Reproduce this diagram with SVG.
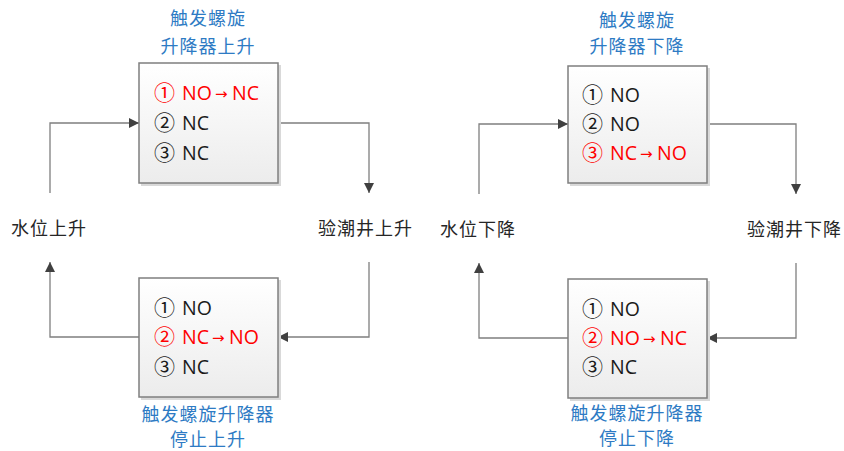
<svg xmlns="http://www.w3.org/2000/svg" width="844" height="451" viewBox="0 0 844 451">
<defs>
<linearGradient id="g" x1="0" y1="0" x2="0" y2="1">
<stop offset="0" stop-color="#ffffff"/>
<stop offset="1" stop-color="#ececec"/>
</linearGradient>
<marker id="ah" viewBox="0 0 10 10" refX="10" refY="5" markerWidth="10" markerHeight="10" markerUnits="userSpaceOnUse" orient="auto">
<path d="M0,0 L10,5 L0,10 z" fill="#404040"/>
</marker>
<style>
.box{fill:url(#g);stroke:#7f7f7f;stroke-width:1.5}
.sh{fill:#d9d9d9}
.t{font-family:"Open Sans","Noto Sans CJK SC",sans-serif;font-size:19.5px;fill:#1a1a1a}
.cd{font-family:"Noto Sans CJK SC",sans-serif;font-size:21px}
.ttl{font-family:"Noto Sans CJK SC",sans-serif;font-size:18px;fill:#2e7bc4;text-anchor:middle;letter-spacing:1px}
.lbl{font-family:"Noto Sans CJK SC",sans-serif;font-size:18px;fill:#262626;letter-spacing:1px}
.r{fill:#ff0000}
.c{fill:none;stroke:#7f7f7f;stroke-width:1.3;marker-end:url(#ah)}
.ar{font-family:"DejaVu Sans",sans-serif;font-size:15px}
</style>
</defs>
<rect width="844" height="451" fill="#ffffff"/>

<g id="connectors">
<polyline class="c" points="50,193 50,123 139,123"/>
<polyline class="c" points="278,123 369,123 369,193"/>
<polyline class="c" points="369,262 369,337 278,337"/>
<polyline class="c" points="139,337 50,337 50,262"/>
<polyline class="c" points="479,194 479,124 568,124"/>
<polyline class="c" points="707,124 796,124 796,194"/>
<polyline class="c" points="796,263 796,338 707,338"/>
<polyline class="c" points="568,338 479,338 479,263"/>
</g>

<g id="node-up-trigger">
<rect class="sh" x="141" y="65" width="140" height="121"/>
<rect class="box" x="139" y="63" width="139" height="120"/>
<text class="t r" x="154" y="100"><tspan class="cd">①</tspan><tspan x="182">NO</tspan><tspan class="ar" x="215" y="99">→</tspan><tspan x="232" y="100">NC</tspan></text>
<text class="t" x="154" y="130"><tspan class="cd">②</tspan><tspan x="182">NC</tspan></text>
<text class="t" x="154" y="160"><tspan class="cd">③</tspan><tspan x="182">NC</tspan></text>
<text class="ttl" x="208" y="25">触发螺旋</text>
<text class="ttl" x="208" y="53">升降器上升</text>
</g>

<g id="node-up-stop">
<rect class="sh" x="141" y="280" width="140" height="120"/>
<rect class="box" x="139" y="278" width="139" height="119"/>
<text class="t" x="154" y="315"><tspan class="cd">①</tspan><tspan x="182">NO</tspan></text>
<text class="t r" x="154" y="344"><tspan class="cd">②</tspan><tspan x="182">NC</tspan><tspan class="ar" x="212" y="343">→</tspan><tspan x="229" y="344">NO</tspan></text>
<text class="t" x="154" y="374"><tspan class="cd">③</tspan><tspan x="182">NC</tspan></text>
<text class="ttl" x="208" y="421">触发螺旋升降器</text>
<text class="ttl" x="208" y="446">停止上升</text>
</g>

<g id="node-water-up">
<text class="lbl" x="11" y="235">水位上升</text>
</g>
<g id="node-tide-up">
<text class="lbl" x="318" y="235">验潮井上升</text>
</g>

<g id="node-down-trigger">
<rect class="sh" x="570" y="68" width="140" height="118"/>
<rect class="box" x="568" y="66" width="139" height="117"/>
<text class="t" x="582" y="102"><tspan class="cd">①</tspan><tspan x="610">NO</tspan></text>
<text class="t" x="582" y="131"><tspan class="cd">②</tspan><tspan x="610">NO</tspan></text>
<text class="t r" x="582" y="160"><tspan class="cd">③</tspan><tspan x="610">NC</tspan><tspan class="ar" x="640" y="159">→</tspan><tspan x="657" y="160">NO</tspan></text>
<text class="ttl" x="637" y="27">触发螺旋</text>
<text class="ttl" x="637" y="53">升降器下降</text>
</g>

<g id="node-down-stop">
<rect class="sh" x="570" y="281" width="140" height="120"/>
<rect class="box" x="568" y="279" width="139" height="119"/>
<text class="t" x="582" y="316"><tspan class="cd">①</tspan><tspan x="610">NO</tspan></text>
<text class="t r" x="582" y="345"><tspan class="cd">②</tspan><tspan x="610">NO</tspan><tspan class="ar" x="643" y="344">→</tspan><tspan x="660" y="345">NC</tspan></text>
<text class="t" x="582" y="374"><tspan class="cd">③</tspan><tspan x="610">NC</tspan></text>
<text class="ttl" x="637" y="420">触发螺旋升降器</text>
<text class="ttl" x="637" y="445">停止下降</text>
</g>

<g id="node-water-down">
<text class="lbl" x="440" y="236">水位下降</text>
</g>
<g id="node-tide-down">
<text class="lbl" x="747" y="236">验潮井下降</text>
</g>
</svg>
